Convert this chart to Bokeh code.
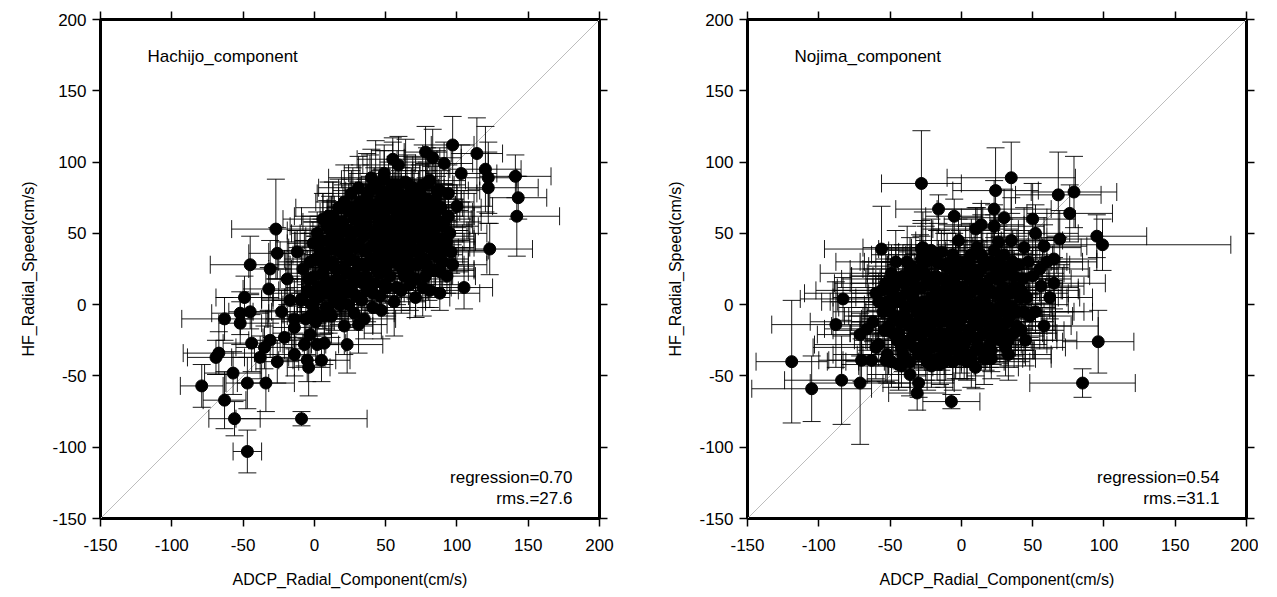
from bokeh.plotting import figure
from bokeh.models import (ColumnDataSource, Whisker, TeeHead, LinearAxis,
                          FixedTicker, Range1d, Label, Slope, CustomLabelingPolicy)
from bokeh.layouts import row
from bokeh.embed import file_html
from bokeh.resources import INLINE

# ---------------- data ----------------
axis_ticks = [-150, -100, -50, 0, 50, 100, 150, 200]
x_title = "ADCP_Radial_Component(cm/s)"
y_title = "HF_Radial_Speed(cm/s)"

# Hachijo component: ADCP value, HF value, ADCP std, HF std (cm/s)
hachijo_adcp = [
    -27, -26, -45, -31, -12, -1, -19, -32, -49, 97,
    114, 120, 122, 122, 141, 143, 142, 123, 105, 103,
    91, 83, 78, 55, 59, 40, 49, 94, 90, 93,
    96, 88, 100, 81, 65, -63, -52, -52, -45, -44,
    -67, -69, -57, -79, -63, -47, -34, -56, -9, -47,
    -38, -26, -35, -31, -23, -17, -9, -14, -14, -21,
    -14, -5, -4, 5, 7, -3, -2, 10, 21, 23,
    31, 47, 2, -7,
    0, 5, 10, 12, 15, 18, 20, 22, 25, 28,
    30, 32, 35, 36, 38, 40, 42, 44, 45, 47,
    48, 50, 52, 54, 55, 57, 58, 60, 62, 63,
    65, 66, 68, 70, 72, 73, 75, 77, 78, 80,
    82, 84, 85, 87, 88, 90, 3, 8, 14, 19,
    24, 27, 33, 37, 41, 46, 51, 56, 61, 67,
    71, 76, 80, 5, 9, 13, 17, 21, 26, 31,
    34, 39, 43, 49, 53, 58, 64, 69, 74, 79,
    86, -5, -8, -3, 2, 6, 11, 16, 23, 29,
    34, 39, 43, 46, 53, 59, 61, 66, 71, 76,
    81, 86, 91, 93, 27, 31, 36, 41, 46, 51,
    56, 62, 67, 72, 77, 83, 24, 19, 15, 10,
    7, -2, -6, 1, 12, 28, 35,
    2, 4, 6, 9, 11, 13, 16, 17, 20, 21,
    23, 24, 26, 27, 29, 30, 31, 33, 34, 36,
    37, 38, 40, 41, 42, 43, 44, 45, 46, 47,
    49, 49, 50, 51, 52, 53, 54, 55, 56, 57,
    58, 59, 60, 61, 62, 63, 64, 65, 66, 67,
    68, 69, 70, 71, 72, 73, 74, 75, 76, 77,
    78, 79, 80, 81, 82, 83, 84, 85, 86, 87,
    88, 89, 90, 92, 94, 95, 97, -4, -1, 1,
    3, 6, 8, 10, 14, 18, 22, 25, 28, 32,
    35, 39, 42, 46, 48, 50, 53, 57, 60, 64,
    67, 70, 74, 79, 84, 88, -9, 0, 7, 15,
]
hachijo_hf = [
    53, 36, 28, 25, 37, 43, 18, 11, 5, 112,
    106, 95, 89, 82, 90, 75, 62, 39, 12, 92,
    99, 103, 107, 102, 98, 89, 92, 78, 55, 44,
    37, 23, 69, 87, 85, -10, -6, -13, -5, -27,
    -34, -37, -48, -57, -67, -55, -55, -80, -80, -103,
    -37, -40, -30, -25, -5, 3, 3, -10, -16, -23,
    -35, -39, -44, -39, -27, -21, -7, -5, -15, -28,
    -14, -4, -28, -28,
    20, 30, 15, 40, 25, 50, 35, 10, 45, 60,
    20, 55, 38, 70, 28, 50, 15, 62, 35, 75,
    45, 25, 58, 40, 68, 30, 50, 78, 42, 20,
    60, 35, 70, 48, 28, 58, 40, 65, 20, 50,
    72, 35, 60, 45, 8, 30, 5, -2, 2, 5,
    0, 8, 3, 10, -2, 6, 12, 2, 10, 14,
    5, 12, 25, 45, 55, 62, 68, 72, 78, 82,
    66, 80, 85, 88, 80, 84, 76, 82, 78, 85,
    80, 10, 25, 30, 50, 60, 28, 38, 22, 30,
    15, 40, 30, 52, 48, 62, 26, 52, 38, 55,
    40, 66, 58, 20, 50, 42, 58, 64, 22, 70,
    55, 68, 44, 65, 32, 55, 65, 15, 55, 45,
    35, 0, -10, -12, -8, -6, -10,
    12, 38, 22, 8, 52, 30, 18, 44, 58, 26,
    38, 52, 14, 68, 40, 6, 62, 28, 48, 20,
    76, 52, 32, 8, 70, 44, 24, 58, 80, 38,
    14, 62, 48, 32, 74, 20, 54, 84, 44, 66,
    12, 38, 56, 70, 30, 50, 86, 46, 22, 62,
    38, 74, 56, 18, 48, 70, 32, 52, 84, 44,
    60, 28, 68, 10, 48, 62, 24, 74, 40, 56,
    32, 68, 46, 38, 62, 50, 28, 18, 8, 32,
    44, 14, 28, 62, 48, 0, 40, 32, 22, 72,
    54, 66, 50, 68, 30, 56, 36, 76, 44, 34,
    28, 64, 46, 74, 52, 80, 4, -5, -8, 10,
]
hachijo_adcp_err = [
    31, 20, 28, 15, 20, 18, 15, 18, 20, 15,
    18, 25, 20, 35, 25, 20, 30, 30, 20, 25,
    20, 20, 15, 25, 25, 30, 25, 20, 25, 20,
    25, 20, 25, 25, 20, 30, 20, 15, 15, 20,
    25, 20, 20, 15, 15, 15, 20, 18, 46, 10,
    20, 15, 20, 15, 20, 20, 20, 20, 15, 15,
    15, 20, 15, 20, 15, 15, 20, 20, 20, 25,
    20, 20, 15, 15,
    20, 25, 18, 30, 22, 28, 15, 25, 32, 20,
    18, 26, 30, 22, 16, 28, 24, 20, 35, 25,
    22, 30, 18, 26, 20, 24, 32, 18, 28, 22,
    25, 20, 30, 16, 28, 22, 26, 34, 18, 24,
    30, 20, 25, 22, 28, 18, 24, 20, 26, 16,
    22, 28, 18, 24, 30, 20, 26, 22, 18, 28,
    24, 20, 32, 18, 26, 22, 30, 20, 24, 28,
    22, 26, 18, 30, 24, 20, 28, 22, 26, 18,
    30, 20, 24, 22, 18, 28, 20, 26, 22, 30,
    24, 18, 28, 20, 26, 22, 30, 18, 24, 20,
    28, 22, 26, 20, 24, 30, 18, 26, 22, 28,
    20, 24, 18, 30, 22, 26, 20, 28, 18, 24,
    22, 20, 26, 18, 24, 28, 22,
    22, 28, 18, 26, 30, 20, 24, 16, 28, 22,
    26, 20, 30, 18, 24, 28, 22, 32, 18, 26,
    20, 24, 28, 22, 30, 18, 26, 20, 24, 28,
    22, 30, 18, 26, 20, 24, 32, 22, 28, 18,
    24, 26, 20, 30, 22, 28, 18, 24, 26, 20,
    30, 22, 28, 18, 24, 26, 20, 32, 22, 28,
    18, 26, 24, 20, 30, 22, 28, 18, 26, 24,
    20, 28, 22, 30, 18, 26, 24, 20, 28, 22,
    30, 18, 26, 24, 20, 28, 22, 30, 18, 26,
    24, 20, 28, 22, 30, 18, 26, 24, 20, 28,
    22, 30, 18, 26, 24, 20, 28, 22, 26, 18,
]
hachijo_hf_err = [
    35, 18, 20, 20, 15, 15, 18, 15, 15, 20,
    25, 30, 25, 25, 15, 15, 28, 18, 15, 20,
    15, 20, 18, 15, 20, 20, 20, 20, 20, 15,
    15, 15, 15, 20, 20, 15, 15, 15, 12, 20,
    15, 12, 15, 15, 20, 18, 20, 12, 5, 15,
    15, 15, 15, 12, 15, 15, 15, 15, 15, 15,
    15, 15, 20, 15, 15, 15, 15, 15, 20, 20,
    20, 20, 15, 15,
    15, 20, 12, 25, 18, 22, 10, 16, 28, 14,
    20, 15, 24, 18, 12, 22, 16, 26, 14, 20,
    18, 24, 12, 20, 15, 22, 28, 16, 20, 12,
    22, 15, 26, 18, 14, 20, 24, 16, 22, 18,
    25, 14, 20, 16, 12, 18, 22, 15, 20, 10,
    16, 20, 14, 22, 18, 12, 20, 24, 16, 18,
    14, 20, 22, 15, 18, 24, 20, 26, 16, 22,
    18, 25, 30, 20, 16, 24, 18, 22, 20, 25,
    28, 12, 16, 20, 15, 18, 22, 14, 20, 16,
    12, 20, 18, 24, 16, 20, 14, 22, 18, 20,
    16, 24, 20, 12, 22, 18, 26, 20, 16, 18,
    22, 20, 14, 18, 24, 16, 20, 22, 14, 18,
    16, 12, 14, 10, 15, 12, 14,
    14, 20, 16, 12, 24, 18, 14, 20, 26, 16,
    18, 22, 12, 28, 16, 14, 24, 18, 20, 14,
    30, 20, 16, 12, 26, 18, 14, 22, 28, 16,
    12, 24, 18, 16, 26, 14, 20, 30, 18, 24,
    12, 16, 22, 26, 18, 20, 30, 16, 14, 24,
    18, 26, 20, 14, 18, 24, 16, 20, 28, 18,
    22, 14, 26, 12, 18, 24, 14, 28, 16, 20,
    16, 26, 18, 14, 22, 20, 14, 12, 10, 16,
    18, 14, 16, 24, 18, 10, 16, 14, 12, 26,
    20, 24, 18, 26, 16, 20, 14, 28, 18, 16,
    14, 24, 18, 26, 20, 30, 12, 10, 12, 14,
]

# Nojima component
nojima_adcp = [
    -28, -16, -5, 24, 23, 23, 10, 14, -56, -49,
    -83, -88, -28, -21, -14, -2, -35, -11, -58, 35,
    68, 79, 76, 95, 99, 30, 50, 52, 58, 69,
    65, 60, 56, 52, 42, 31, 26, -119, -105, -84,
    -71, -71, -70, -63, -66, -30, -31, -36, -42, -7,
    10, 21, -21, -53, 96, 85, 2,
    -55, -50, -48, -45, -42, -40, -38, -36, -34, -32,
    -30, -28, -26, -25, -23, -21, -20, -18, -17, -15,
    -13, -12, -10, -9, -7, -5, -4, -2, 0, 2,
    3, 5, 7, 8, 10, 12, 14, 15, 17, 19,
    21, 22, 25, 27, 28, 30, 32, 34, 36, 38,
    40, 42, 44, 46, -58, -52, -47, -44, -41, -37,
    -33, -29, -27, -24, -22, -19, -16, -14, -11, -8,
    -6, -3, -1, 1, 4, 6, 9, 11, 13, 16,
    18, 20, 23, 26, 29, 31, 33, 35, 37, 39,
    43, 47, 48, -62, -60, -53, -51, -46, -43, -39,
    -35, -31, -26, -24, -19, -17, -14, -12, -9, -6,
    -2, 0, 3, 6, 9, 12, 15, 18, 20, 24,
    27, 30, 33, 36, 41, 45, 50, 55, 58, 62,
    65,
    -50, -47, -45, -43, -41, -39, -37, -35, -33, -31,
    -29, -28, -27, -25, -24, -22, -21, -20, -18, -17,
    -16, -15, -13, -12, -11, -10, -9, -8, -7, -6,
    -5, -4, -3, -2, -1, 0, 1, 2, 3, 4,
    5, 6, 7, 8, 9, 10, 11, 12, 13, 14,
    15, 16, 17, 18, 19, 20, 22, 23, 25, 26,
    28, 29, 31, 32, 34, 35, 37, 39, 41, 44,
    -56, -54, -52, -49, -46, -44, -40, -38, -36, -34,
    -32, -30, -28, -26, -23, -21, -19, -17, -14, -12,
    -10, -8, -6, -4, -2, 0, 2, 4, 6, 8,
    10, 12, 15, 18, 21, 24, 27, 30, 33, -60,
]
nojima_hf = [
    85, 67, 62, 80, 67, 55, 53, 56, 39, 22,
    4, -14, 39, 38, 37, 45, 27, 27, 2, 89,
    77, 79, 64, 48, 42, 61, 60, 50, 41, 46,
    32, 30, 13, -5, 10, 1, 44, -40, -59, -53,
    -55, -21, -39, -39, -17, -55, -62, -49, -43, -68,
    -44, -32, -43, -39, -26, -55, -37,
    -5, 10, -20, 5, -30, 15, -10, 25, -22, 0,
    -35, 12, -15, 30, -28, 5, -5, 20, -38, -12,
    10, -25, 28, -2, -18, 15, -32, 5, -10, 22,
    -25, 0, 35, -15, 12, -30, 25, -5, 8, -20,
    30, -10, 18, -25, 5, 35, -12, 22, -2, 12,
    28, -18, 40, 5, -28, -35, -8, -42, 20, -25,
    18, -8, 40, -40, -18, 12, 0, -30, 18, 8,
    -40, -8, 30, 12, -35, 18, -5, 40, 2, -38,
    15, -28, 38, -5, 20, -30, 10, 45, -20, -5,
    18, 30, -8, -12, 8, 15, -15, 30, -12, -2,
    8, -18, 22, -2, -10, 30, -20, 2, -12, 25,
    -22, 0, 10, -20, 22, -12, 32, -8, 10, -15,
    28, -20, -35, 30, 5, -25, 20, 25, -15, 5,
    15,
    -2, 12, -25, 2, -35, 8, -15, 20, -30, -5,
    25, -22, 2, -35, 15, -8, 35, -30, 0, -20,
    18, -42, -5, 28, -35, 5, -22, 15, -5, 35,
    -28, 8, -15, 22, -38, 12, -5, -28, 30, 0,
    -18, 8, -38, 25, -12, 0, -25, 15, -8, 35,
    -20, 5, -32, 28, -2, 18, -22, 8, -12, 30,
    -18, 12, 0, 25, -8, 8, 20, -15, 10, -5,
    10, -18, 2, -40, 18, -20, -8, 30, -40, 5,
    12, -12, 32, -28, -12, 18, -25, 8, -10, -40,
    15, -28, 0, 20, -10, -30, 5, -40, 32, -8,
    -32, 22, 10, -12, -38, 25, -2, 10, -25, -30,
]
nojima_adcp_err = [
    28, 30, 20, 30, 40, 35, 30, 30, 40, 50,
    30, 45, 30, 30, 30, 30, 30, 30, 40, 45,
    30, 30, 30, 35, 90, 30, 30, 30, 30, 30,
    30, 35, 30, 40, 40, 35, 30, 25, 42, 40,
    35, 30, 30, 30, 30, 25, 20, 30, 30, 20,
    30, 30, 30, 30, 25, 37, 30,
    35, 40, 30, 45, 28, 38, 32, 42, 30, 36,
    40, 34, 28, 46, 32, 38, 30, 44, 35, 30,
    36, 28, 42, 32, 38, 30, 44, 34, 28, 40,
    32, 38, 46, 30, 36, 28, 40, 34, 30, 38,
    42, 30, 36, 28, 40, 34, 32, 38, 30, 44,
    36, 30, 40, 28, 45, 38, 32, 40, 36, 30,
    34, 40, 42, 30, 36, 28, 38, 32, 40, 30,
    36, 42, 30, 34, 40, 28, 38, 46, 32, 36,
    30, 40, 34, 38, 28, 42, 32, 36, 30, 40,
    34, 38, 30, 44, 50, 36, 40, 42, 34, 38,
    30, 36, 40, 32, 38, 34, 28, 36, 30, 34,
    38, 32, 36, 30, 40, 28, 34, 38, 32, 36,
    40, 34, 30, 38, 42, 36, 40, 34, 38, 30,
    36,
    36, 40, 30, 44, 32, 38, 34, 42, 30, 36,
    40, 32, 38, 44, 30, 36, 42, 34, 38, 30,
    44, 36, 32, 40, 30, 38, 34, 42, 36, 30,
    40, 34, 38, 32, 44, 30, 36, 40, 34, 38,
    32, 42, 30, 36, 40, 34, 38, 30, 44, 36,
    32, 40, 34, 38, 30, 42, 36, 32, 40, 34,
    38, 30, 44, 36, 32, 40, 34, 38, 30, 42,
    46, 36, 40, 32, 38, 34, 42, 30, 36, 40,
    34, 38, 32, 44, 30, 36, 40, 34, 38, 32,
    42, 30, 36, 40, 34, 38, 32, 44, 30, 36,
    40, 34, 38, 32, 42, 30, 36, 40, 34, 44,
]
nojima_hf_err = [
    37, 10, 12, 30, 20, 15, 15, 15, 30, 20,
    15, 30, 20, 15, 15, 15, 15, 15, 20, 25,
    30, 25, 20, 15, 18, 20, 25, 20, 15, 20,
    15, 15, 20, 15, 15, 15, 15, 43, 23, 31,
    43, 15, 15, 15, 15, 10, 12, 15, 15, 5,
    15, 15, 15, 15, 22, 10, 15,
    15, 20, 12, 18, 15, 20, 14, 22, 16, 12,
    18, 15, 14, 25, 16, 12, 14, 20, 15, 12,
    16, 14, 22, 12, 15, 18, 20, 14, 12, 20,
    16, 12, 25, 15, 18, 14, 20, 12, 15, 16,
    22, 14, 18, 16, 12, 25, 15, 20, 14, 16,
    20, 12, 28, 15, 15, 20, 14, 18, 22, 16,
    18, 12, 25, 20, 15, 14, 12, 16, 18, 14,
    20, 12, 22, 15, 18, 14, 12, 28, 15, 18,
    14, 16, 25, 12, 18, 20, 14, 30, 16, 12,
    18, 22, 15, 14, 12, 20, 18, 22, 16, 14,
    15, 18, 20, 12, 14, 22, 16, 12, 15, 20,
    16, 14, 12, 18, 20, 15, 22, 14, 16, 18,
    20, 16, 18, 22, 14, 18, 20, 22, 16, 15,
    18,
    16, 20, 14, 18, 12, 22, 16, 20, 14, 18,
    24, 15, 12, 18, 20, 14, 25, 16, 12, 18,
    20, 14, 16, 22, 18, 12, 15, 20, 14, 25,
    16, 12, 18, 22, 14, 20, 12, 16, 25, 15,
    18, 14, 20, 22, 16, 12, 18, 20, 14, 28,
    16, 20, 14, 22, 12, 18, 20, 14, 16, 25,
    18, 14, 12, 22, 16, 20, 18, 14, 16, 12,
    20, 16, 14, 18, 22, 14, 16, 25, 18, 12,
    14, 16, 25, 18, 14, 20, 16, 12, 15, 18,
    20, 16, 14, 22, 16, 18, 14, 12, 25, 16,
    18, 22, 20, 15, 14, 20, 12, 16, 18, 22,
]

panels = [
    dict(name="Hachijo_component", reg="regression=0.70", rms="rms.=27.6",
         x=hachijo_adcp, y=hachijo_hf, xe=hachijo_adcp_err, ye=hachijo_hf_err),
    dict(name="Nojima_component", reg="regression=0.54", rms="rms.=31.1",
         x=nojima_adcp, y=nojima_hf, xe=nojima_adcp_err, ye=nojima_hf_err),
]

FONT = "Liberation Sans"
H = 592
TOP = 19
FRAME = 499


def make_axis(show_labels, title=None, horizontal=True):
    ax = LinearAxis(ticker=FixedTicker(ticks=axis_ticks))
    ax.axis_line_color = None
    ax.major_tick_in = 0
    ax.major_tick_out = 8
    ax.major_tick_line_color = "black"
    ax.major_tick_line_width = 1.5
    ax.minor_tick_line_color = None
    ax.major_label_text_font = FONT
    ax.major_label_text_color = "black"
    if show_labels:
        ax.major_label_overrides = {t: str(t) for t in axis_ticks}
        ax.major_label_text_font_size = "17px"
        ax.major_label_standoff = 12 if horizontal else 6
    else:
        ax.major_label_text_font_size = "0px"
        ax.major_label_standoff = 0
        ax.major_label_policy = CustomLabelingPolicy(code="""
for (const i of indices) indices.unset(i)
return indices
""")
    if title:
        ax.axis_label = title
        ax.axis_label_text_font = FONT
        ax.axis_label_text_font_size = "16px"
        ax.axis_label_text_font_style = "normal"
        ax.axis_label_text_color = "black"
        ax.axis_label_standoff = 17 if horizontal else 12
    return ax


def make_panel(d, width, border_left):
    xs, ys, xe, ye = d["x"], d["y"], d["xe"], d["ye"]
    src = ColumnDataSource(dict(
        x=xs, y=ys,
        xl=[a - e for a, e in zip(xs, xe)], xu=[a + e for a, e in zip(xs, xe)],
        yl=[a - e for a, e in zip(ys, ye)], yu=[a + e for a, e in zip(ys, ye)],
    ))
    p = figure(width=width, height=H,
               x_range=Range1d(-150, 200), y_range=Range1d(-150, 200),
               output_backend="svg", toolbar_location=None,
               x_axis_location=None, y_axis_location=None,
               min_border_left=border_left, min_border_right=width - border_left - FRAME,
               min_border_top=TOP, min_border_bottom=H - TOP - FRAME)
    p.grid.visible = False
    p.outline_line_color = "black"
    p.outline_line_width = 3
    p.background_fill_color = "white"
    p.border_fill_color = "white"

    p.add_layout(make_axis(True, x_title, True), "below")
    p.add_layout(make_axis(True, y_title, False), "left")
    p.add_layout(make_axis(False), "above")
    p.add_layout(make_axis(False), "right")

    diag = Slope(gradient=1, y_intercept=0, line_color="#bdbdbd", line_width=1)
    diag.level = "underlay"
    p.add_layout(diag)

    for dim, base, lo, hi in (("width", "y", "xl", "xu"), ("height", "x", "yl", "yu")):
        w = Whisker(source=src, base=base, lower=lo, upper=hi, dimension=dim,
                    line_color="black", line_width=1, line_alpha=0.9,
                    upper_head=TeeHead(size=18, line_color="black", line_width=1, line_alpha=0.9),
                    lower_head=TeeHead(size=18, line_color="black", line_width=1, line_alpha=0.9))
        w.level = "glyph"
        p.add_layout(w)

    p.scatter("x", "y", source=src, size=12, fill_color="black", line_color="black")

    p.add_layout(Label(x=-117, y=174, text=d["name"], text_font=FONT,
                       text_font_size="17px", text_baseline="middle", text_color="black"))
    p.add_layout(Label(x=181, y=-121, text=d["reg"], text_font=FONT, text_align="right",
                       text_font_size="17px", text_baseline="middle", text_color="black"))
    p.add_layout(Label(x=181, y=-136, text=d["rms"], text_font=FONT, text_align="right",
                       text_font_size="17px", text_baseline="middle", text_color="black"))
    return p


p1 = make_panel(panels[0], 618, 100)
p2 = make_panel(panels[1], 640, 129)
layout = row(p1, p2)

open("out.html", "w").write(file_html(layout, INLINE))
